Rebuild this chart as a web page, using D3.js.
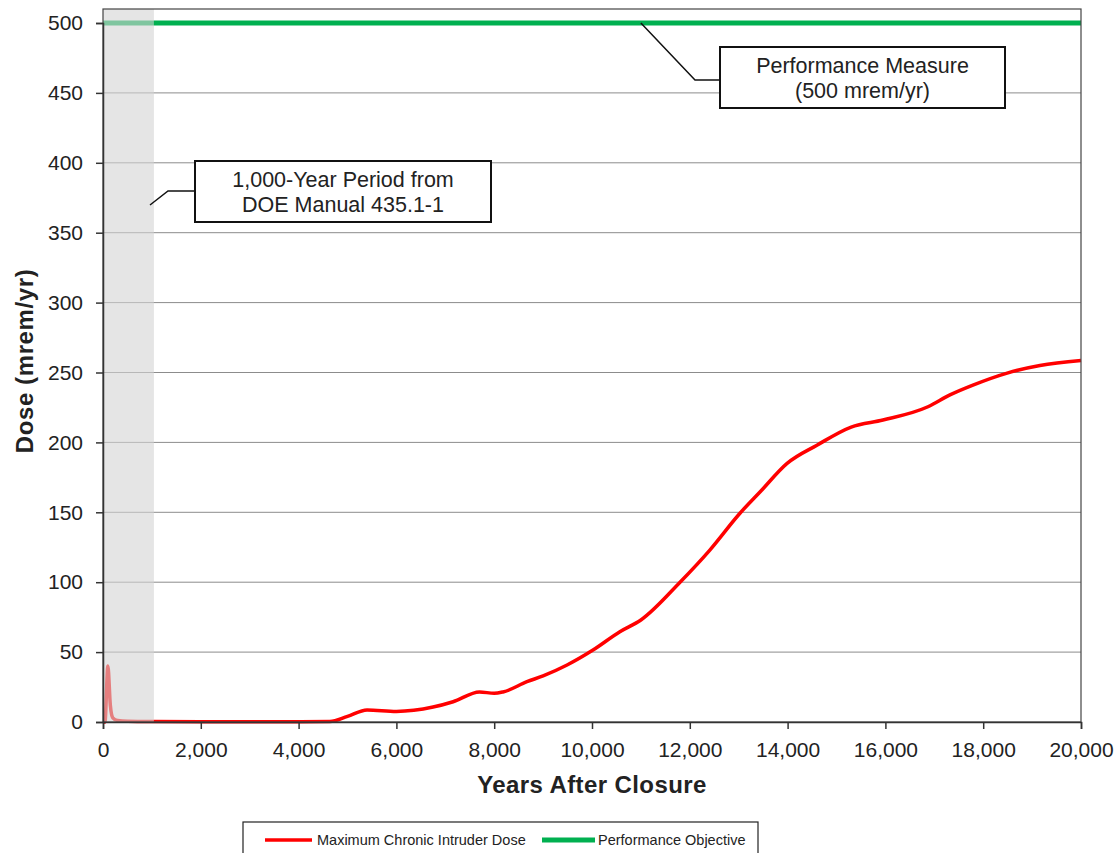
<!DOCTYPE html>
<html>
<head>
<meta charset="utf-8">
<script src="https://cdn.jsdelivr.net/npm/d3@7"></script>
<style>
  html, body { margin: 0; padding: 0; background: #fff; }
  svg { display: block; }
  text { font-family: "Liberation Sans", Arial, sans-serif; fill: #222; }
</style>
</head>
<body>
<svg id="chart" width="1117" height="853"></svg>
<script>
// ---- data ----
const years = [0, 40, 100, 150, 200, 300, 500, 1000, 2000, 3000, 4000, 4640, 5000, 5400, 6000, 6750, 7160, 7700, 8000, 8180, 8670, 9000, 9490, 10020, 10570, 11000, 11800, 12410, 13030, 13440, 13990, 14600, 15300, 15950, 16870, 17320, 17790, 18490, 19160, 20000];
const dose  = [0, 0, 40, 12, 3, 1, 0.5, 0.3, 0.2, 0.2, 0.2, 0.3, 4, 8.6, 7.6, 10.7, 14.5, 21.5, 20.5, 21.5, 28.8, 33, 40.8, 51.5, 64.6, 73, 100, 123, 149.5, 164.7, 185, 198, 211, 216, 225.5, 234, 241, 249.6, 255, 258.5];
const objectiveYears = [0, 20000];
const objectiveDose = [500, 500];
const xTicks = [0, 2000, 4000, 6000, 8000, 10000, 12000, 14000, 16000, 18000, 20000];
const yTicks = [0, 50, 100, 150, 200, 250, 300, 350, 400, 450, 500];
const shadedPeriod = [0, 1000];
const seriesNames = ["Maximum Chronic Intruder Dose", "Performance Objective"];
const annotationPerf = ["Performance Measure", "(500 mrem/yr)"];
const annotationDoe = ["1,000-Year Period from", "DOE Manual 435.1-1"];

// ---- layout ----
const svg = d3.select("#chart");
const L = 103, R = 1081, T = 9, B = 722;
const x = d3.scaleLinear().domain([0, 20000]).range([L, R]);
const y = d3.scaleLinear().domain([0, 500]).range([B, 23]);

// gridlines
svg.append("g").selectAll("line").data(yTicks.filter(d => d > 0)).join("line")
  .attr("x1", L).attr("x2", R)
  .attr("y1", d => y(d)).attr("y2", d => y(d))
  .attr("stroke", "#8c8c8c").attr("stroke-width", 1);

// lines
const line = d3.line().x(d => x(d[0])).y(d => y(d[1])).curve(d3.curveMonotoneX);
svg.append("path")
  .datum(years.map((yr, i) => [yr, dose[i]]))
  .attr("d", line).attr("fill", "none")
  .attr("stroke", "#ff0000").attr("stroke-width", 3.5).attr("stroke-linejoin", "round");

svg.append("path")
  .datum(objectiveYears.map((yr, i) => [yr, objectiveDose[i]]))
  .attr("d", line).attr("fill", "none")
  .attr("stroke", "#00b050").attr("stroke-width", 5);

// shaded 1000-year period (over lines)
svg.append("rect")
  .attr("x", x(shadedPeriod[0])).attr("y", T)
  .attr("width", x(shadedPeriod[1]) - x(shadedPeriod[0]) + 2).attr("height", B - T)
  .attr("fill", "#d4d4d4").attr("opacity", 0.6);

// plot frame
svg.append("rect")
  .attr("x", L).attr("y", T).attr("width", R - L).attr("height", B - T)
  .attr("fill", "none").attr("stroke", "#444").attr("stroke-width", 1.2);

// axes
const xAxis = svg.append("g").attr("transform", `translate(0,${B})`)
  .call(d3.axisBottom(x).tickValues(xTicks).tickFormat(d3.format(",")).tickSize(7).tickPadding(13));
const yAxis = svg.append("g").attr("transform", `translate(${L},0)`)
  .call(d3.axisLeft(y).tickValues(yTicks).tickSize(7).tickPadding(13));
[xAxis, yAxis].forEach(g => {
  g.select(".domain").attr("stroke", "#333").attr("stroke-width", 1.5);
  g.selectAll(".tick line").attr("stroke", "#333").attr("stroke-width", 1.5);
  g.selectAll(".tick text").attr("font-size", 21).attr("fill", "#222")
    .attr("font-family", "Liberation Sans, Arial, sans-serif");
});

// axis titles
svg.append("text").attr("x", 592).attr("y", 793).attr("text-anchor", "middle")
  .attr("font-size", 24).attr("font-weight", "bold").attr("letter-spacing", 0.4).text("Years After Closure");
svg.append("text").attr("transform", "translate(33,361) rotate(-90)").attr("text-anchor", "middle")
  .attr("font-size", 24).attr("font-weight", "bold").attr("letter-spacing", 0.6).text("Dose (mrem/yr)");

// annotations
function callout(box, leader, lines) {
  svg.append("path").attr("d", d3.line()(leader)).attr("fill", "none")
    .attr("stroke", "#111").attr("stroke-width", 1.5);
  svg.append("rect").attr("x", box[0]).attr("y", box[1]).attr("width", box[2]).attr("height", box[3])
    .attr("fill", "#fff").attr("stroke", "#111").attr("stroke-width", 2);
  const cx = box[0] + box[2] / 2;
  lines.forEach((t, i) => {
    svg.append("text").attr("x", cx).attr("y", box[1] + 26 + i * 25)
      .attr("text-anchor", "middle").attr("font-size", 21.5).text(t);
  });
}
callout([720, 47, 285, 61], [[x(11000), y(500)], [695, 80], [720, 80]], annotationPerf);
callout([195, 161, 296, 61], [[150, 205], [168, 191], [195, 191]], annotationDoe);

// legend
svg.append("rect").attr("x", 243).attr("y", 822).attr("width", 515).attr("height", 40)
  .attr("fill", "#fff").attr("stroke", "#222").attr("stroke-width", 1.2);
const legItems = [
  { name: seriesNames[0], color: "#ff0000", w: 3.5, x0: 265, x1: 312, tx: 317 },
  { name: seriesNames[1], color: "#00b050", w: 5, x0: 542, x1: 595, tx: 598 }
];
legItems.forEach(it => {
  svg.append("line").attr("x1", it.x0).attr("x2", it.x1).attr("y1", 840).attr("y2", 840)
    .attr("stroke", it.color).attr("stroke-width", it.w);
  svg.append("text").attr("x", it.tx).attr("y", 845).attr("font-size", 14.5).text(it.name);
});
</script>
</body>
</html>
